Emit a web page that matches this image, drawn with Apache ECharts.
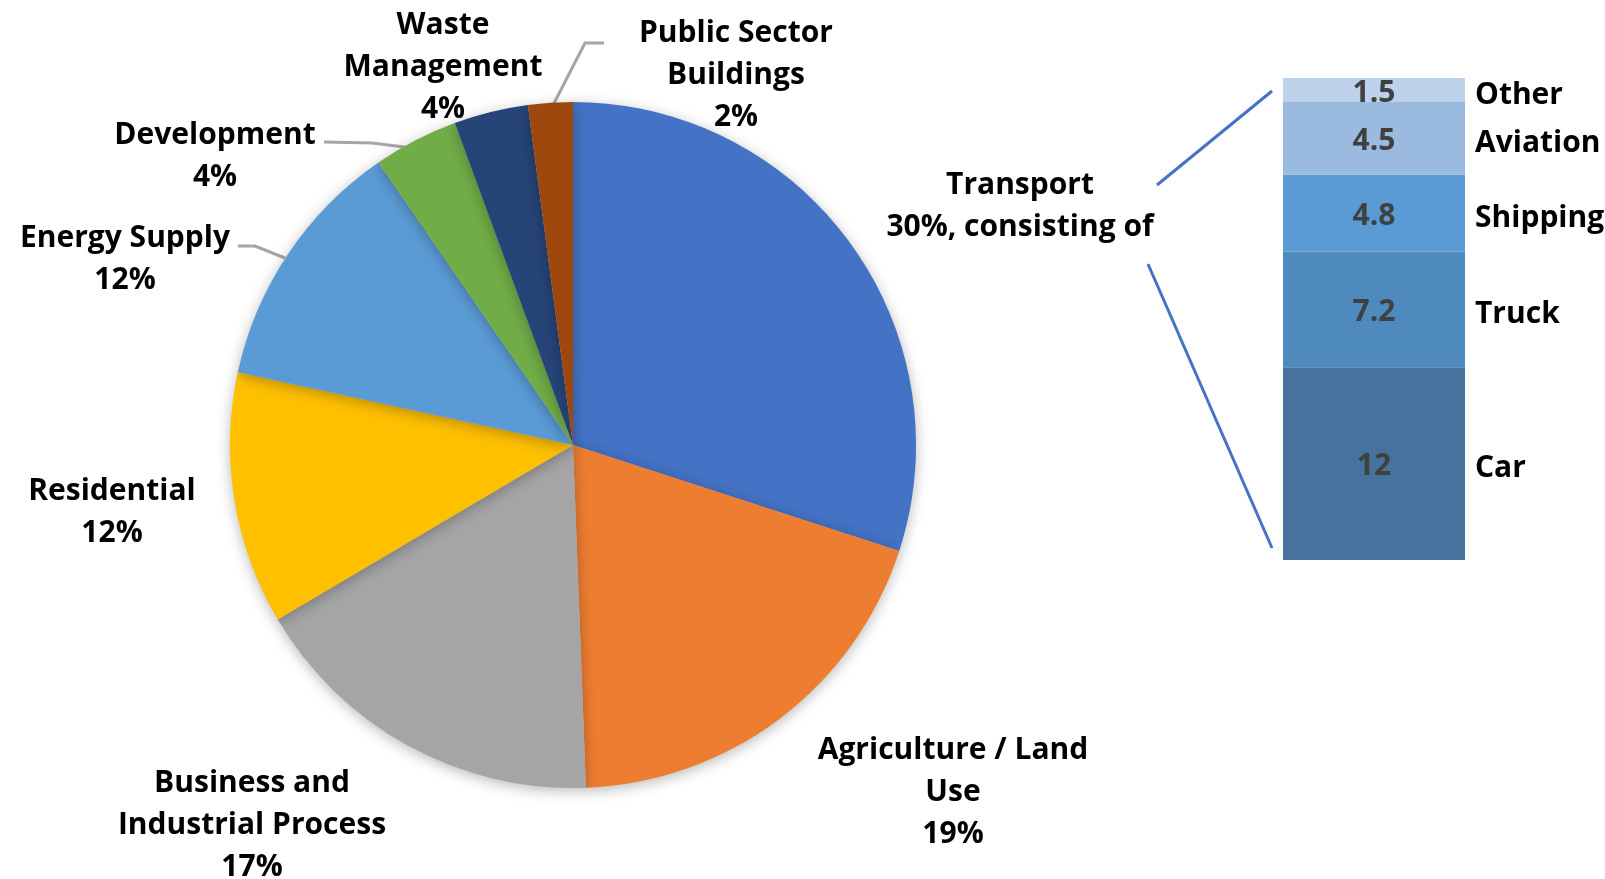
<!DOCTYPE html>
<html>
<head>
<meta charset="utf-8">
<script src="https://cdn.jsdelivr.net/npm/echarts@6/dist/echarts.min.js"></script>
<style>
  html, body { margin: 0; padding: 0; background: #ffffff; }
  #chart { width: 1605px; height: 879px; }
</style>
</head>
<body>
<div id="chart"></div>
<script>
// ---- Data ----
const sectorNames = ['Transport', 'Agriculture / Land\nUse', 'Business and\nIndustrial Process', 'Residential',
  'Energy Supply', 'Development', 'Waste\nManagement', 'Public Sector\nBuildings'];
const sectorValues = [30, 19.4, 17.1, 11.9, 12.0, 4.0, 3.5, 2.1];
const sectorColors = ['#4472C4', '#ED7D31', '#A5A5A5', '#FFC000', '#5B9BD5', '#70AD47', '#264478', '#9E480E'];

const transportNames = ['Car', 'Truck', 'Shipping', 'Aviation', 'Other'];
const transportValues = [12, 7.2, 4.8, 4.5, 1.5];
const transportColors = ['#45739E', '#4F8ABE', '#5B9BD5', '#9ABADF', '#BDD1EB'];

// ---- Layout (styles only) ----
const FONT = 'Open Sans';
const FS = 30;
const labelPos = [
  [1020, 206], [953, 792], [252, 825], [112, 512],
  [125, 259], [215, 156], [443, 67], [736, 75]
];
const leaderPoints = {
  4: [[285, 258], [255, 246], [238, 246]],
  5: [[412, 148], [372, 143], [324, 142]],
  7: [[550, 111], [585, 43], [604, 43]]
};

const pieData = sectorNames.map((n, i) => ({
  name: n,
  value: sectorValues[i],
  itemStyle: { color: sectorColors[i] },
  labelLine: { show: !!leaderPoints[i] }
}));

// value segments
const barSeries = transportNames.map((n, i) => ({
  type: 'bar',
  name: n,
  stack: 'transport',
  xAxisIndex: 0,
  yAxisIndex: 0,
  barWidth: '100%',
  data: [transportValues[i]],
  itemStyle: { color: transportColors[i] },
  label: {
    show: true,
    position: 'inside',
    offset: [0, 3],
    color: '#404040',
    fontFamily: FONT,
    fontWeight: 'bold',
    fontSize: FS,
    formatter: p => String(p.value)
  },
  emphasis: { disabled: true },
  silent: true
}));

// transparent overlay carrying the category names on the right
const nameSeries = transportNames.map((n, i) => ({
  type: 'bar',
  name: n,
  stack: 'names',
  xAxisIndex: 1,
  yAxisIndex: 0,
  barWidth: '100%',
  data: [transportValues[i]],
  itemStyle: { color: 'rgba(0,0,0,0)' },
  label: {
    show: true,
    position: 'right',
    distance: 10,
    offset: [0, 5],
    color: '#000000',
    fontFamily: FONT,
    fontWeight: 'bold',
    fontSize: FS,
    formatter: p => p.seriesName
  },
  emphasis: { disabled: true },
  silent: true
}));

const chart = echarts.init(document.getElementById('chart'), null, { renderer: 'canvas' });
chart.setOption({
  animation: false,
  backgroundColor: '#ffffff',
  grid: { left: 1283, top: 78, width: 182, height: 482, containLabel: false },
  xAxis: [
    { type: 'category', data: ['Transport'], show: false },
    { type: 'category', data: ['Transport'], show: false }
  ],
  yAxis: { type: 'value', min: 0, max: 30, show: false },
  series: [
    {
      type: 'pie',
      center: [573, 445],
      radius: 343,
      startAngle: 90,
      clockwise: true,
      avoidLabelOverlap: false,
      silent: true,
      data: pieData,
      itemStyle: {
        shadowBlur: 14,
        shadowOffsetY: 3,
        shadowColor: 'rgba(0,0,0,0.28)'
      },
      label: {
        show: true,
        position: 'outside',
        color: '#000000',
        fontFamily: FONT,
        fontWeight: 'bold',
        fontSize: FS,
        lineHeight: 42,
        align: 'center',
        formatter: p => {
          const pct = Math.round(p.percent) + '%';
          return p.dataIndex === 0 ? p.name + '\n' + pct + ', consisting of' : p.name + '\n' + pct;
        }
      },
      labelLine: {
        show: true,
        lineStyle: { color: '#A6A6A6', width: 3 }
      },
      labelLayout: params => {
        const pos = labelPos[params.dataIndex];
        const out = { x: pos[0], y: pos[1], align: 'center', verticalAlign: 'middle' };
        if (leaderPoints[params.dataIndex]) out.labelLinePoints = leaderPoints[params.dataIndex];
        return out;
      }
    }
  ].concat(barSeries, nameSeries),
  graphic: [
    { type: 'line', shape: { x1: 1157, y1: 185, x2: 1272, y2: 91 }, style: { stroke: '#4472C4', lineWidth: 3 } },
    { type: 'line', shape: { x1: 1148, y1: 264, x2: 1272, y2: 548 }, style: { stroke: '#4472C4', lineWidth: 3 } }
  ]
});
</script>
</body>
</html>
